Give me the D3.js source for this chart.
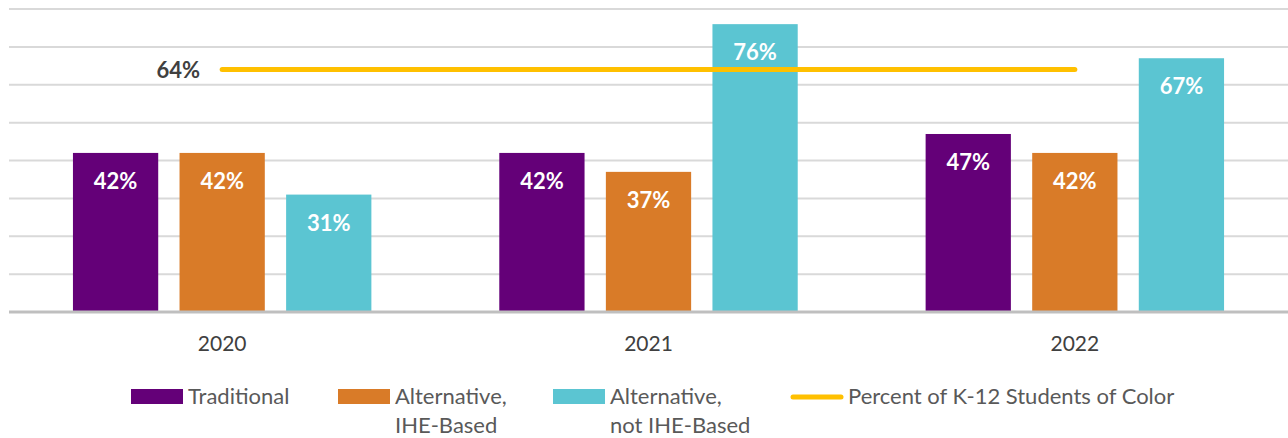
<!DOCTYPE html>
<html>
<head>
<meta charset="utf-8">
<script src="https://cdn.jsdelivr.net/npm/d3@7"></script>
<style>
  html, body { margin: 0; padding: 0; background: #fff; }
  svg { display: block; font-family: Lato, "Open Sans", sans-serif; }
</style>
</head>
<body>
<svg id="chart" width="1288" height="438"></svg>
<script>
// Share of program completers by year and pathway (percent)
const years = ["2020", "2021", "2022"];
const seriesNames = ["Traditional", "Alternative, IHE-Based", "Alternative, not IHE-Based"];
const traditional = [42, 42, 47];
const altIHE = [42, 37, 42];
const altNotIHE = [31, 76, 67];
const studentsOfColor = [64, 64, 64];
const yTicks = [0, 10, 20, 30, 40, 50, 60, 70, 80];

const colors = ["#640078", "#D97B28", "#5BC5D2"];
const lineColor = "#FFC000";

const svg = d3.select("#chart");
const plot = { left: 9, right: 1288, top: 9, bottom: 312 };

const x0 = d3.scaleBand().domain(years).range([plot.left, plot.right]).paddingInner(0.3).paddingOuter(0.15);
const x1 = d3.scaleBand().domain(seriesNames).range([0, x0.bandwidth()]).paddingInner(0.2);
const y = d3.scaleLinear().domain([0, 80]).range([plot.bottom, plot.top]);

// horizontal gridlines
svg.append("g")
  .selectAll("line")
  .data(yTicks.filter(t => t > 0))
  .join("line")
  .attr("x1", plot.left).attr("x2", plot.right)
  .attr("y1", d => y(d)).attr("y2", d => y(d))
  .attr("stroke", "#D9D9D9").attr("stroke-width", 2);

const values = [traditional, altIHE, altNotIHE];
const rows = [];
years.forEach((yr, i) => {
  seriesNames.forEach((s, j) => rows.push({ year: yr, series: s, j, v: values[j][i] }));
});

// bars
svg.append("g")
  .selectAll("rect")
  .data(rows)
  .join("rect")
  .attr("x", d => x0(d.year) + x1(d.series))
  .attr("y", d => y(d.v))
  .attr("width", x1.bandwidth())
  .attr("height", d => y(0) - y(d.v))
  .attr("fill", d => colors[d.j]);

// baseline
svg.append("line")
  .attr("x1", plot.left).attr("x2", plot.right)
  .attr("y1", y(0)).attr("y2", y(0))
  .attr("stroke", "#BFBFBF").attr("stroke-width", 3);

// value labels inside bars
svg.append("g")
  .selectAll("text")
  .data(rows)
  .join("text")
  .attr("x", d => x0(d.year) + x1(d.series) + x1.bandwidth() / 2)
  .attr("y", d => y(d.v) + 36)
  .attr("text-anchor", "middle")
  .attr("fill", "#fff")
  .attr("font-weight", 700)
  .attr("font-size", 22)
  .text(d => d.v + "%");

// reference line: percent of K-12 students of color
const lineX = d => x0(d) + x0.bandwidth() / 2;
svg.append("path")
  .datum(years.map((yr, i) => ({ yr, v: studentsOfColor[i] })))
  .attr("fill", "none")
  .attr("stroke", lineColor)
  .attr("stroke-width", 5)
  .attr("stroke-linecap", "round")
  .attr("d", d3.line().x(d => lineX(d.yr)).y(d => y(d.v)));

svg.append("text")
  .attr("x", lineX(years[0]) - 22)
  .attr("y", y(studentsOfColor[0]) + 8)
  .attr("text-anchor", "end")
  .attr("fill", "#404040")
  .attr("font-weight", 700)
  .attr("font-size", 22)
  .text(studentsOfColor[0] + "%");

// x axis labels
const xAxis = d3.axisBottom(x0).tickSize(0).tickPadding(24);
const gx = svg.append("g").attr("transform", `translate(0,${y(0)})`).call(xAxis);
gx.select(".domain").remove();
gx.selectAll("text")
  .attr("font-family", "Lato, 'Open Sans', sans-serif")
  .attr("font-size", 21)
  .attr("fill", "#404040");

// legend
const legend = [
  { type: "rect", color: colors[0], x: 131, lines: ["Traditional"] },
  { type: "rect", color: colors[1], x: 338, lines: ["Alternative,", "IHE-Based"] },
  { type: "rect", color: colors[2], x: 553, lines: ["Alternative,", "not IHE-Based"] },
  { type: "line", color: lineColor, x: 791, lines: ["Percent of K-12 Students of Color"] }
];
const lg = svg.append("g");
legend.forEach(item => {
  if (item.type === "rect") {
    lg.append("rect").attr("x", item.x).attr("y", 389).attr("width", 52).attr("height", 15).attr("fill", item.color);
  } else {
    lg.append("line").attr("x1", item.x + 2).attr("x2", item.x + 50).attr("y1", 397).attr("y2", 397)
      .attr("stroke", item.color).attr("stroke-width", 5).attr("stroke-linecap", "round");
  }
  const t = lg.append("text").attr("x", item.x + 57).attr("y", 404)
    .attr("fill", "#595959").attr("font-size", 22);
  item.lines.forEach((ln, i) => {
    t.append("tspan").attr("x", item.x + 57).attr("dy", i === 0 ? 0 : 29).text(ln);
  });
});
</script>
</body>
</html>
